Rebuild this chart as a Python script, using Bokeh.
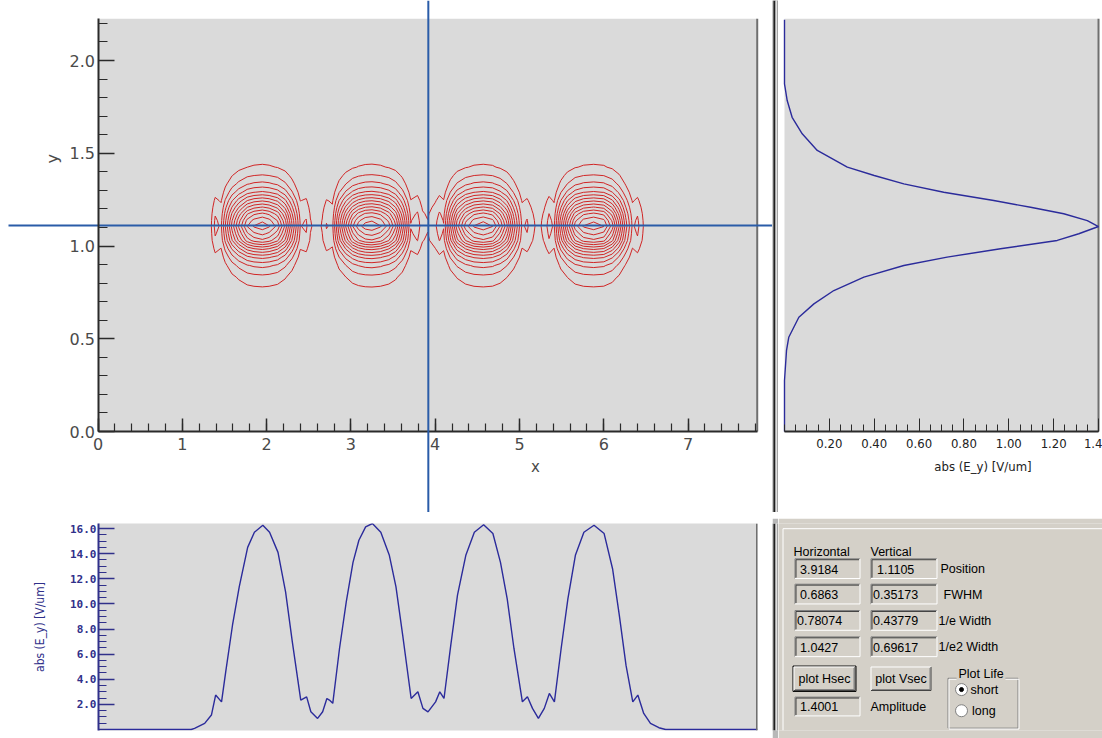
import numpy as np
from bokeh.plotting import figure
from bokeh.layouts import column, row
from bokeh.models import Range1d, FixedTicker, Span, Label, PrintfTickFormatter, ColumnDataSource
from bokeh.embed import file_html
from bokeh.resources import INLINE
from bokeh.core.properties import value

# ---------------- data ----------------
# horizontal cut (bottom panel): x position and abs(E_y) [V/um]
HCUT_X = [0.00, 1.10, 1.14, 1.26, 1.34, 1.39, 1.46, 1.51, 1.59, 1.67, 1.77, 1.85, 1.95, 2.03, 2.13,
          2.22, 2.30, 2.40, 2.47, 2.52, 2.60, 2.66, 2.71, 2.74, 2.78, 2.86, 2.94, 3.02, 3.09, 3.17,
          3.25, 3.35, 3.45, 3.53, 3.61, 3.71, 3.79, 3.85, 3.91, 4.00, 4.05, 4.10, 4.18, 4.26, 4.36,
          4.46, 4.57, 4.68, 4.77, 4.85, 4.93, 5.03, 5.09, 5.15, 5.22, 5.29, 5.35, 5.41, 5.49, 5.57,
          5.66, 5.76, 5.88, 6.00, 6.10, 6.18, 6.26, 6.34, 6.40, 6.47, 6.55, 6.65, 6.73, 7.82]
HCUT_V = [0.0, 0.0, 0.09, 0.49, 1.15, 2.74, 2.20, 4.60, 8.30, 11.35, 14.50, 15.70, 16.26, 15.70, 14.10,
          10.95, 6.98, 2.34, 2.60, 1.41, 0.88, 1.41, 2.47, 2.34, 2.08, 6.45, 10.16, 13.30, 15.07, 16.13,
          16.40, 15.70, 13.90, 11.35, 7.50, 2.47, 3.00, 1.68, 1.40, 2.20, 3.00, 2.47, 6.70, 10.70, 13.90,
          15.70, 16.30, 15.60, 13.30, 10.40, 6.45, 2.20, 2.60, 1.68, 0.88, 1.68, 2.87, 2.20, 6.45, 10.40,
          13.90, 15.70, 16.26, 15.60, 12.80, 9.10, 5.10, 2.20, 2.74, 1.28, 0.49, 0.14, 0.0, 0.0]
# vertical cut (right panel): y position and abs(E_y) [V/um]
VCUT_Y = [0.00, 0.275, 0.437, 0.508, 0.616, 0.688, 0.760, 0.832, 0.895, 0.940, 0.985, 1.030, 1.066,
          1.105, 1.137, 1.174, 1.209, 1.245, 1.290, 1.335, 1.380, 1.425, 1.515, 1.605, 1.694, 1.784,
          1.874, 2.220]
VCUT_V = [0.0, 0.0, 0.009, 0.019, 0.064, 0.131, 0.220, 0.354, 0.532, 0.725, 0.963, 1.216, 1.312,
          1.400, 1.350, 1.245, 1.097, 0.933, 0.710, 0.532, 0.400, 0.280, 0.146, 0.079, 0.034, 0.012,
          0.0, 0.0]
# read-out panel
READ_ROWS = ["Position", "FWHM", "1/e Width", "1/e2 Width"]
READ_H = ["3.9184", "0.6863", "0.78074", "1.0427"]
READ_V = ["1.1105", "0.35173", "0.43779", "0.69617"]
AMPLITUDE = "1.4001"
CROSS_X, CROSS_Y = 3.9184, 1.1105
# axis limits, ticks, contour levels
X_MAX, Y_MAX = 7.82, 2.225
B_MAX = 16.4
R_MAX = 1.4
MAIN_X_TICKS = [0, 1, 2, 3, 4, 5, 6, 7]
MAIN_Y_TICKS = [0.0, 0.5, 1.0, 1.5, 2.0]
BOT_Y_TICKS = [2, 4, 6, 8, 10, 12, 14, 16]
R_TICKS = [0.2, 0.4, 0.6, 0.8, 1.0, 1.2, 1.4]
R_TICK_LABELS = ["0.20", "0.40", "0.60", "0.80", "1.00", "1.20", "1.4"]
CONTOUR_LEVELS = [1.3, 2.4, 3.5, 4.6, 5.7, 6.8, 7.9, 9.0, 10.1, 11.2, 12.3, 13.4, 14.5, 15.6]

# ---------------- styles / layout ----------------
PLOT_BG = "#dadada"
GUI_BG = "#d4d0c8"
CROSS_C = "#2a5ca8"
PROF_C = "#2b2b9b"
NAVY = "#30308a"
CONT_C = "#d02525"
TICK_FONT = "DejaVu Sans"
NARROW = "Liberation Sans Narrow, DejaVu Sans Condensed, sans-serif"

W_MAIN, H_TOP, W_SEP, W_R, H_BOT = 772, 512, 6, 324, 220
X0, XS = 97.5, 84.3     # px from main-figure left where x=0, px per unit
Y0, YS = 431.0, 185.5   # px from figure top where y=0, px per unit
XR0, XRS = 6.0, 224.3   # right panel


def base_fig(w, h, xr, yr, **kw):
    f = figure(width=w, height=h, x_range=xr, y_range=yr, output_backend="svg",
               toolbar_location=None, title=None, min_border=0,
               outline_line_color=None, **kw)
    f.grid.visible = False
    return f


# ---------- main contour figure ----------
main = base_fig(W_MAIN, H_TOP, Range1d(-X0 / XS, (W_MAIN - X0) / XS),
                Range1d(-(H_TOP - Y0) / YS, Y0 / YS),
                background_fill_color="white", border_fill_color="white")
main.quad(left=[0], right=[X_MAX], bottom=[0], top=[Y_MAX], fill_color=PLOT_BG, line_color=None)
# 2-D field for the contour map, built from the two measured cuts
Z = np.outer((np.array(VCUT_V) / max(VCUT_V)) ** 1.5, np.array(HCUT_V))
main.contour(x=HCUT_X, y=VCUT_Y, z=Z, levels=CONTOUR_LEVELS, line_color=CONT_C, line_width=1)
main.segment(x0=[X_MAX], y0=[0], x1=[X_MAX], y1=[Y_MAX], line_color="#6f6f6f", line_width=2)

xa = main.xaxis[0]
xa.fixed_location = 0
xa.bounds = (0, X_MAX)
xa.ticker = FixedTicker(ticks=MAIN_X_TICKS, minor_ticks=[round(0.2 * k, 2) for k in range(40)])
xa.major_tick_in, xa.major_tick_out = 13, 0
xa.minor_tick_in, xa.minor_tick_out = 8, 0
xa.major_label_text_align = "left"
xa.major_label_standoff = 6
ya = main.yaxis[0]
ya.fixed_location = 0
ya.bounds = (0, Y_MAX)
ya.ticker = FixedTicker(ticks=MAIN_Y_TICKS, minor_ticks=[round(0.1 * k, 2) for k in range(23)])
ya.formatter = PrintfTickFormatter(format="%.1f")
ya.major_tick_in, ya.major_tick_out = 16, 0
ya.minor_tick_in, ya.minor_tick_out = 9, 0
ya.major_label_standoff = 3
for ax in (xa, ya):
    ax.axis_line_color = "#2a2a2a"
    ax.axis_line_width = 2
    ax.major_tick_line_color = "#2a2a2a"
    ax.major_tick_line_width = 1.5
    ax.minor_tick_line_color = "#2a2a2a"
    ax.minor_tick_line_width = 1.2
    ax.major_label_text_font = TICK_FONT
    ax.major_label_text_font_size = "16px"
    ax.major_label_text_color = "#4a4a4a"

main.add_layout(Label(x=-0.54, y=1.47, text="y", angle=np.pi / 2, text_align="center",
                      text_baseline="middle", text_font=TICK_FONT, text_font_size="16px",
                      text_color="#4a4a4a"))
main.add_layout(Label(x=5.19, y=-0.19, text="x", text_align="center", text_baseline="middle",
                      text_font=TICK_FONT, text_font_size="15px", text_color="#4a4a4a"))
# cross-hair through the read-out position
main.add_layout(Span(location=CROSS_X, dimension="height", line_color=CROSS_C, line_width=2))
main.segment(x0=[(8 - X0) / XS], y0=[CROSS_Y], x1=[(W_MAIN - X0) / XS], y1=[CROSS_Y],
             line_color=CROSS_C, line_width=2)

# ---------- right (vertical cut) ----------
right = base_fig(W_R, H_TOP, Range1d(-XR0 / XRS, (W_R - XR0) / XRS),
                 Range1d(-(H_TOP - Y0) / YS, Y0 / YS),
                 background_fill_color="white", border_fill_color="white",
                 y_axis_location=None)
right.quad(left=[0], right=[R_MAX], bottom=[0], top=[Y_MAX], fill_color=PLOT_BG, line_color=None)
right.segment(x0=[R_MAX], y0=[0], x1=[R_MAX], y1=[Y_MAX], line_color="#6f6f6f", line_width=2)
right.line(x=VCUT_V, y=VCUT_Y, line_color=PROF_C, line_width=1.4)
ra = right.xaxis[0]
ra.fixed_location = 0
ra.bounds = (0, R_MAX)
ra.ticker = FixedTicker(ticks=R_TICKS, minor_ticks=[round(0.05 * k, 2) for k in range(29)])
ra.major_label_overrides = {t: s for t, s in zip(R_TICKS, R_TICK_LABELS)}
ra.major_tick_in, ra.major_tick_out = 13, 0
ra.minor_tick_in, ra.minor_tick_out = 7, 0
ra.major_label_standoff = 7
ra.axis_line_color = "#2a2a2a"
ra.axis_line_width = 2
ra.major_tick_line_color = "#2a2a2a"
ra.minor_tick_line_color = "#2a2a2a"
ra.major_label_text_font = NARROW
ra.major_label_text_font_size = "13px"
ra.major_label_text_color = "#222222"
right.add_layout(Label(x=0.885, y=-0.189, text="abs (E_y) [V/um]", text_align="center",
                       text_baseline="middle", text_font=NARROW, text_font_size="13px",
                       text_color="#222222"))

# ---------- bottom (horizontal cut) ----------
bot = base_fig(W_MAIN, H_BOT, Range1d(0, X_MAX), Range1d(-0.08, B_MAX),
               background_fill_color=PLOT_BG, border_fill_color="white",
               x_axis_location=None)
bot.min_border_left = 98
bot.min_border_right = 15
bot.min_border_top = 5
bot.min_border_bottom = 8
bot.line(x=HCUT_X, y=HCUT_V, line_color=PROF_C, line_width=1.4)
bot.add_layout(Span(location=X_MAX, dimension="height", line_color="#6f6f6f", line_width=3))
ba = bot.yaxis[0]
ba.ticker = FixedTicker(ticks=BOT_Y_TICKS, minor_ticks=[0.5 * k for k in range(33)])
ba.formatter = PrintfTickFormatter(format="%.1f")
ba.major_tick_in, ba.major_tick_out = 16, 0
ba.minor_tick_in, ba.minor_tick_out = 8, 0
ba.major_label_standoff = 2
ba.axis_line_color = NAVY
ba.axis_line_width = 2
ba.major_tick_line_color = NAVY
ba.major_tick_line_width = 1.5
ba.minor_tick_line_color = NAVY
ba.major_label_text_font = "DejaVu Sans Mono"
ba.major_label_text_font_style = "bold"
ba.major_label_text_font_size = "11px"
ba.major_label_text_color = NAVY
ba.axis_label = "abs (E_y) [V/um]"
ba.axis_label_standoff = 20
ba.axis_label_text_font = NARROW
ba.axis_label_text_font_style = "normal"
ba.axis_label_text_font_size = "12px"
ba.axis_label_text_color = NAVY

# ---------- read-out panel ----------
gui = base_fig(W_R, H_BOT, Range1d(0, W_R), Range1d(H_BOT, 0),
               background_fill_color=GUI_BG, border_fill_color=GUI_BG,
               x_axis_location=None, y_axis_location=None)
seg = {"x0": [], "y0": [], "x1": [], "y1": [], "c": []}


def add_seg(x0, y0, x1, y1, c):
    for k, v in zip(("x0", "y0", "x1", "y1", "c"), (x0, y0, x1, y1, c)):
        seg[k].append(v)


def sunken(l, t, r, b):
    add_seg(l, t, r, t, "#808080"); add_seg(l, t, l, b, "#808080")
    add_seg(l + 1, t + 1, r - 1, t + 1, "#404040"); add_seg(l + 1, t + 1, l + 1, b - 1, "#404040")
    add_seg(l, b, r, b, "#ffffff"); add_seg(r, t, r, b, "#ffffff")


def raised(l, t, r, b, default=False):
    if default:
        add_seg(l - 1, t - 1, r + 1, t - 1, "#000000"); add_seg(l - 1, b + 1, r + 1, b + 1, "#000000")
        add_seg(l - 1, t - 1, l - 1, b + 1, "#000000"); add_seg(r + 1, t - 1, r + 1, b + 1, "#000000")
    add_seg(l, t, r, t, "#ffffff"); add_seg(l, t, l, b, "#ffffff")
    add_seg(l, b, r, b, "#404040"); add_seg(r, t, r, b, "#404040")
    add_seg(l + 1, b - 1, r - 1, b - 1, "#808080"); add_seg(r - 1, t + 1, r - 1, b - 1, "#808080")


# panel inner highlight
add_seg(4.5, 5.5, W_R, 5.5, "#ffffff")
add_seg(4.5, 5.5, 4.5, H_BOT, "#ffffff")

row_tops = [37.5, 64.5, 92.5, 120.5]
txt = {"x": [], "y": [], "t": [], "a": []}


def add_txt(x, y, t, a="left"):
    txt["x"].append(x); txt["y"].append(y); txt["t"].append(t); txt["a"].append(a)


add_txt(15, 30, "Horizontal")
add_txt(92, 30, "Vertical")
row_label_x = [162, 165, 160, 160]
for i, top in enumerate(row_tops):
    sunken(16.5, top, 81.5, top + 21)
    sunken(92.5, top, 158.5, top + 21)
    hv, vv = READ_H[i], READ_V[i]
    add_txt(17.5 + (4 if len(hv) < 7 else 1), top + 11, hv)
    add_txt(93.5 + (5 if len(vv) < 7 else 1), top + 11, vv)
    add_txt(row_label_x[i], top + 11, READ_ROWS[i])

raised(15.5, 152.5, 76.5, 177.5, default=True)
raised(92.5, 152.5, 152.5, 177.5)
add_txt(46, 165, "plot Hsec", "center")
add_txt(122.5, 165, "plot Vsec", "center")
sunken(16.5, 184.5, 81.5, 204.5)
add_txt(21.5, 195, AMPLITUDE)
add_txt(92, 195, "Amplitude")

# group box "Plot Life"
gl, gt, gr, gb = 169.5, 164.5, 239.5, 217.5
for d, c in ((0, "#808080"), (1, "#ffffff")):
    add_seg(gl + d, gt + d, 178, gt + d, c)
    add_seg(227, gt + d, gr + d, gt + d, c)
    add_seg(gl + d, gt + d, gl + d, gb + d, c)
    add_seg(gr + d, gt + d, gr + d, gb + d, c)
    add_seg(gl + d, gb + d, gr + d, gb + d, c)
add_txt(180, 160, "Plot Life")
add_txt(192, 176.5, "short")
add_txt(193.5, 199, "long")

gui.segment(x0="x0", y0="y0", x1="x1", y1="y1", line_color="c", line_width=1,
            source=ColumnDataSource(seg))
gui.scatter(x=[183, 183], y=[176.5, 199], marker="circle", size=12, fill_color="white",
            line_color="#808080", line_width=1)
gui.scatter(x=[183], y=[176.5], marker="circle", size=4, fill_color="black", line_color="black")
gui.text(x="x", y="y", text="t", text_align="a", source=ColumnDataSource(txt),
         text_font=value("Liberation Sans"), text_font_size=value("12.5px"),
         text_baseline="middle", text_color="#000000")


# ---------- separators ----------
def separator(w, h, vertical):
    f = base_fig(w, h, Range1d(0, w), Range1d(h, 0),
                 background_fill_color="#b8b8b8", border_fill_color="#b8b8b8",
                 x_axis_location=None, y_axis_location=None)
    stripes = [(0, 1, "#9a9a9a"), (1, 3, "#202020"), (3, 5, "#e0e0e0"), (5, 6, "#7a7a7a")]
    for a, b, c in stripes:
        if vertical:
            f.quad(left=[a], right=[b], top=[0], bottom=[h], fill_color=c, line_color=None)
        else:
            f.quad(left=[0], right=[w], top=[a], bottom=[b], fill_color=c, line_color=None)
    return f


vsep_top = separator(W_SEP, H_TOP, True)
hsep = separator(W_MAIN + W_SEP + W_R, W_SEP, False)
vsep_bot = separator(W_SEP, H_BOT, True)

layout = column(row(main, vsep_top, right), hsep, row(bot, vsep_bot, gui))
open("out.html", "w").write(file_html(layout, INLINE))
